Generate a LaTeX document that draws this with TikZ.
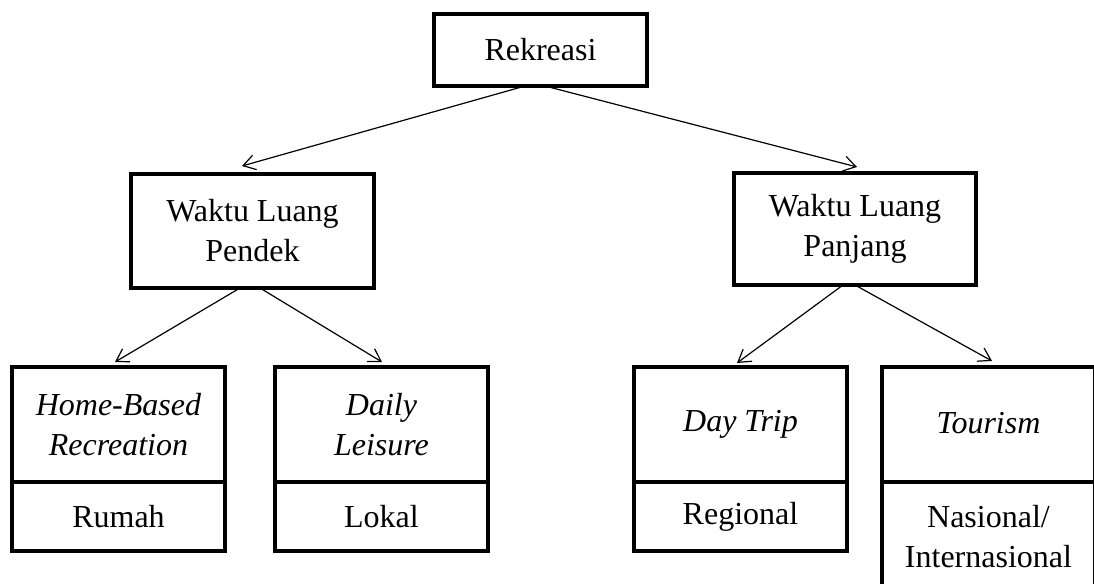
\documentclass[tikz,border=0pt]{standalone}
\usepackage{fontspec}
\setmainfont{Liberation Serif}
\usetikzlibrary{arrows.meta}
\usetikzlibrary{positioning}

\begin{document}
\begin{tikzpicture}[x=0.5pt, y=-0.5pt, font=\fontsize{16}{20}\selectfont,
  box/.style={draw, line width=2.3pt, align=center, inner sep=0pt, outer sep=0pt},
  topbox/.style={box, minimum width=106.5pt, minimum height=57.5pt},
  subbox/.style={box, minimum width=106.5pt, minimum height=34.5pt},
  arr/.style={-{Straight Barb[length=6pt,width=7.5pt]}, line width=0.6pt}]

  \clip (0,0) rectangle (1094,584);

  % Root
  \node[box, minimum width=106.5pt, minimum height=36pt] (rek) at (540.5,50) {Rekreasi};

  % Second level
  \node[box, minimum width=121.5pt, minimum height=57pt] (pendek) at (252.5,231) {Waktu Luang\\Pendek};
  \node[box, minimum width=121pt, minimum height=56pt] (panjang) at (855,229) {Waktu Luang\\Panjang};

  % Leaves, each with its scale below
  \node[topbox] (home) at (118.5,424.5) {\textit{Home-Based}\\\textit{Recreation}};
  \node[subbox] (rumah) [below=0pt of home] {Rumah};
  \node[topbox] (daily) at (381.5,424.5) {\textit{Daily}\\\textit{Leisure}};
  \node[subbox] (lokal) [below=0pt of daily] {Lokal};
  \node[topbox] (dtrip) at (740.5,424.5) {\textit{Day Trip}\vphantom{$\int$}};
  \node[subbox] (regional) [below=0pt of dtrip] {Regional};
  \node[topbox] (tour) at (988.5,424.5) {\textit{Tourism}\vphantom{$\int$}};
  \node[subbox, minimum height=55pt] (nasional) [below=0pt of tour] {Nasional/\\Internasional};

  \draw[arr] ([xshift=-7.75pt]rek.south) -- ([xshift=-5.25pt,yshift=4pt]pendek.north);
  \draw[arr] ([xshift=2.25pt]rek.south) -- ([xshift=1pt,yshift=3pt]panjang.north);
  \draw[arr] ([xshift=-6.25pt]pendek.south) -- ([xshift=-1.75pt,yshift=2.5pt]home.north);
  \draw[arr] ([xshift=3.75pt]pendek.south) -- ([xshift=0.25pt,yshift=2.5pt]daily.north);
  \draw[arr] ([xshift=-6pt]panjang.south) -- ([xshift=-1.75pt,yshift=2pt]dtrip.north);
  \draw[arr] (panjang.south) -- ([xshift=1.75pt,yshift=3pt]tour.north);
\end{tikzpicture}
\end{document}
